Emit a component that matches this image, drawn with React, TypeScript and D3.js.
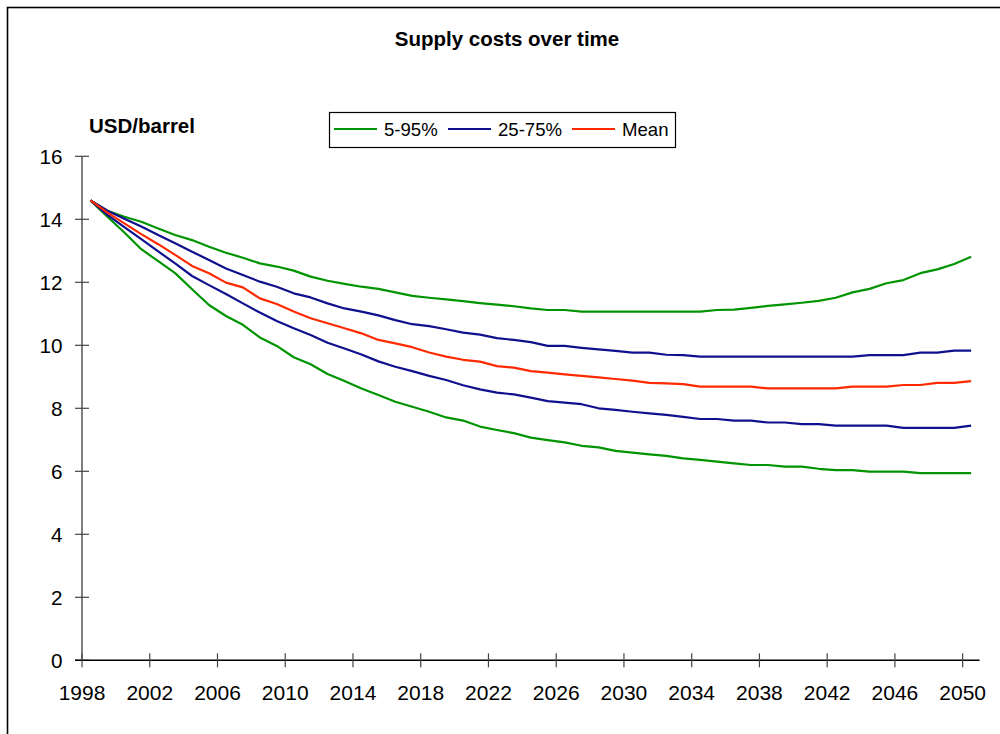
import React from "react";
import * as d3 from "d3";

const years: number[] = d3.range(1998, 2051);

const p95: number[] = [
  14.6, 14.27, 14.08, 13.92, 13.71, 13.5, 13.34, 13.13, 12.94, 12.78,
  12.6, 12.5, 12.37, 12.18, 12.05, 11.95, 11.86, 11.79, 11.68, 11.57,
  11.51, 11.46, 11.4, 11.34, 11.29, 11.24, 11.17, 11.12, 11.12, 11.07,
  11.07, 11.07, 11.07, 11.07, 11.07, 11.07, 11.07, 11.12, 11.13, 11.19,
  11.25, 11.3, 11.35, 11.41, 11.51, 11.68, 11.79, 11.97, 12.07, 12.29,
  12.41, 12.58, 12.81,
];

const p75: number[] = [
  14.6, 14.27, 14.02, 13.77, 13.5, 13.24, 12.97, 12.71, 12.44, 12.23,
  12.02, 11.86, 11.65, 11.52, 11.33, 11.17, 11.07, 10.95, 10.8, 10.67,
  10.61, 10.51, 10.4, 10.34, 10.23, 10.17, 10.1, 9.98, 9.98, 9.92,
  9.87, 9.82, 9.77, 9.77, 9.7, 9.69, 9.64, 9.64, 9.64, 9.64,
  9.64, 9.64, 9.64, 9.64, 9.64, 9.64, 9.69, 9.69, 9.69, 9.77,
  9.77, 9.83, 9.83,
];

const mean: number[] = [
  14.6, 14.21, 13.87, 13.53, 13.21, 12.87, 12.52, 12.29, 11.99, 11.84,
  11.49, 11.31, 11.07, 10.86, 10.7, 10.54, 10.38, 10.17, 10.06, 9.94,
  9.77, 9.64, 9.54, 9.48, 9.34, 9.29, 9.18, 9.13, 9.08, 9.03,
  8.98, 8.93, 8.88, 8.81, 8.79, 8.77, 8.69, 8.69, 8.69, 8.69,
  8.63, 8.63, 8.63, 8.63, 8.63, 8.69, 8.69, 8.69, 8.74, 8.74,
  8.81, 8.81, 8.86,
];

const p25: number[] = [
  14.6, 14.14, 13.75, 13.37, 12.98, 12.6, 12.2, 11.91, 11.63, 11.33,
  11.04, 10.77, 10.54, 10.33, 10.08, 9.9, 9.71, 9.49, 9.32, 9.18,
  9.03, 8.9, 8.73, 8.6, 8.5, 8.44, 8.34, 8.23, 8.18, 8.13,
  8.0, 7.95, 7.89, 7.84, 7.79, 7.73, 7.66, 7.66, 7.61, 7.61,
  7.55, 7.55, 7.5, 7.5, 7.45, 7.45, 7.45, 7.45, 7.38, 7.38,
  7.38, 7.38, 7.45,
];

const p5: number[] = [
  14.6, 14.08, 13.58, 13.05, 12.67, 12.29, 11.78, 11.28, 10.93, 10.65,
  10.25, 9.98, 9.62, 9.4, 9.09, 8.87, 8.63, 8.42, 8.21, 8.05,
  7.89, 7.71, 7.61, 7.42, 7.31, 7.21, 7.07, 6.99, 6.92, 6.81,
  6.76, 6.65, 6.59, 6.54, 6.49, 6.41, 6.36, 6.31, 6.25, 6.2,
  6.2, 6.15, 6.15, 6.08, 6.04, 6.04, 5.99, 5.99, 5.99, 5.94,
  5.94, 5.94, 5.94,
];

const xTickYears: number[] = d3.range(1998, 2051, 4);
const yTicks: number[] = [0, 2, 4, 6, 8, 10, 12, 14, 16];

const GREEN = "#009400";
const BLUE = "#10108e";
const RED = "#ff2a00";

const seriesList = [
  { name: "p95", values: p95, color: GREEN },
  { name: "p5", values: p5, color: GREEN },
  { name: "p75", values: p75, color: BLUE },
  { name: "p25", values: p25, color: BLUE },
  { name: "mean", values: mean, color: RED },
];

const legendItems = [
  { label: "5-95%", color: GREEN },
  { label: "25-75%", color: BLUE },
  { label: "Mean", color: RED },
];

export default function App() {
  const W = 1000;
  const H = 734;
  const x = d3.scaleLinear().domain([1998, 2051]).range([82, 979.6]);
  const y = d3.scaleLinear().domain([0, 16]).range([660.3, 156.3]);
  const line = d3
    .line<number>()
    .x((_, i) => x(years[i] + 0.5))
    .y((d) => y(d));
  const font = "'Liberation Sans', Arial, sans-serif";
  const legendX = [334, 448, 572];
  return (
    <svg
      width={W}
      height={H}
      style={{ position: "absolute", left: 0, top: 0, background: "#fff" }}
      fontFamily={font}
    >
      <rect x={0} y={0} width={W} height={H} fill="#fff" />
      <rect x={7.5} y={7.5} width={1200} height={1000} fill="none" stroke="#000" strokeWidth={1.6} />
      <text x={507} y={46} textAnchor="middle" fontWeight="bold" fontSize={20.5} fill="#000">
        Supply costs over time
      </text>
      <text x={89} y={133} fontWeight="bold" fontSize={20.5} fill="#000">
        USD/barrel
      </text>
      {/* legend */}
      <rect x={329.5} y={112.5} width={346} height={35} fill="#fff" stroke="#000" strokeWidth={1.2} />
      {legendItems.map((it, i) => (
        <g key={it.label}>
          <line x1={legendX[i]} x2={legendX[i] + 43} y1={129} y2={129} stroke={it.color} strokeWidth={2} />
          <text x={legendX[i] + 50} y={135.5} fontSize={18.6} fill="#000">
            {it.label}
          </text>
        </g>
      ))}
      {/* y axis */}
      <line x1={x(1998)} x2={x(1998)} y1={y(16)} y2={y(0)} stroke="#808080" strokeWidth={2} />
      {yTicks.map((t) => (
        <g key={t}>
          <line x1={75} x2={89} y1={y(t)} y2={y(t)} stroke="#444" strokeWidth={1.2} />
          <text x={62.5} y={y(t)} dy="0.36em" textAnchor="end" fontSize={20.7} fill="#000">
            {t}
          </text>
        </g>
      ))}
      {/* x axis */}
      <line x1={75} x2={979.6} y1={y(0)} y2={y(0)} stroke="#000" strokeWidth={1.5} />
      {xTickYears.map((t) => (
        <g key={t}>
          <line x1={x(t)} x2={x(t)} y1={y(0) - 7} y2={y(0) + 7} stroke="#444" strokeWidth={1.2} />
          <text x={x(t)} y={700} textAnchor="middle" fontSize={21} fill="#000">
            {t}
          </text>
        </g>
      ))}
      {/* series */}
      {seriesList.map((s) => (
        <path key={s.name} d={line(s.values) || ""} fill="none" stroke={s.color} strokeWidth={2.2} strokeLinejoin="round" />
      ))}
    </svg>
  );
}
